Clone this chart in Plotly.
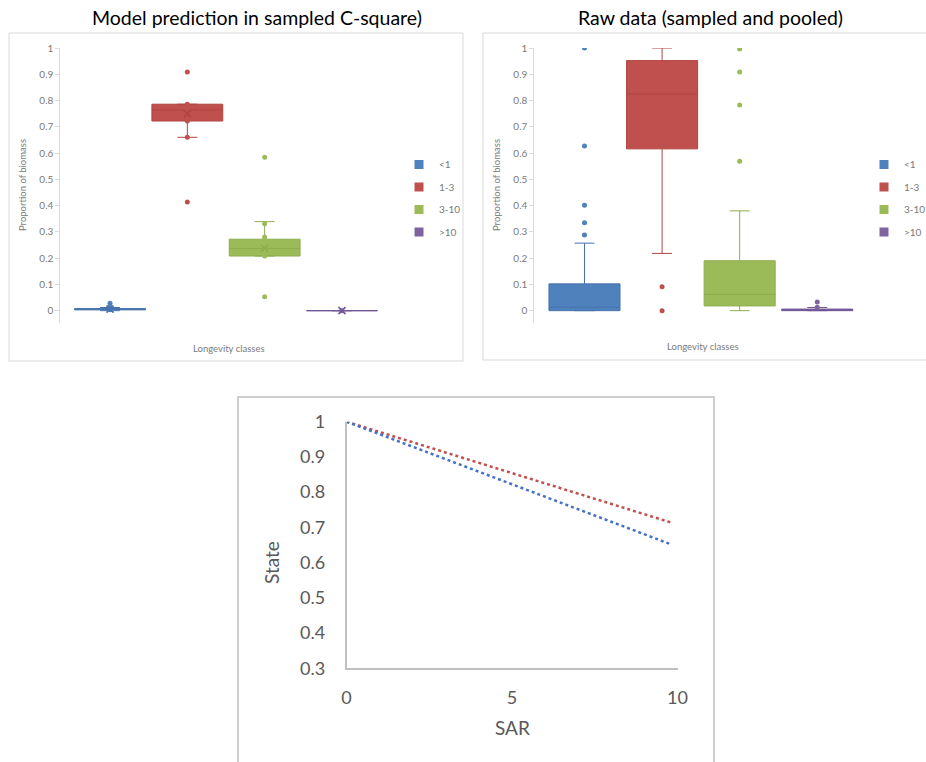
import plotly.graph_objects as go

W, H = 926, 762

# ---------------- data ----------------
categories = ["<1", "1-3", "3-10", ">10"]

# Panel 1: model prediction in sampled C-square
model_q1 = [0.003, 0.722, 0.208, 0.0]
model_median = [0.005, 0.764, 0.237, 0.0]
model_q3 = [0.008, 0.786, 0.272, 0.0]
model_lower = [0.0, 0.660, 0.208, 0.0]
model_upper = [0.012, 0.786, 0.339, 0.0]
model_mean = [0.006, 0.750, 0.237, 0.0]
model_points = [
    [0.028, 0.018, 0.003],
    [0.909, 0.786, 0.776, 0.762, 0.745, 0.730, 0.722, 0.660, 0.414],
    [0.584, 0.331, 0.280, 0.270, 0.250, 0.230, 0.215, 0.208, 0.053],
    [0.0],
]

# Panel 2: raw data (sampled and pooled)
raw_q1 = [0.0, 0.616, 0.018, 0.0]
raw_median = [0.013, 0.825, 0.062, 0.002]
raw_q3 = [0.102, 0.952, 0.190, 0.006]
raw_lower = [0.0, 0.218, 0.0, 0.0]
raw_upper = [0.257, 1.0, 0.380, 0.012]
raw_outliers = [
    [0.288, 0.335, 0.401, 0.627, 1.0],
    [0.091, 0.0],
    [0.569, 0.783, 0.909, 0.996],
    [0.013, 0.033],
]

# Panel 3: State vs SAR
sar = [0, 9.8]
state_red = [1.0, 0.714]
state_blue = [1.0, 0.652]

yticks_top = [0, 0.1, 0.2, 0.3, 0.4, 0.5, 0.6, 0.7, 0.8, 0.9, 1]
yticks_bottom = [0.3, 0.4, 0.5, 0.6, 0.7, 0.8, 0.9, 1]
xticks_bottom = [0, 5, 10]

# ---------------- styles ----------------
FONT = "Lato"
GRAY = "#595959"
LGRAY = "#7a7a7a"
box_colors = ["#4F81BD", "#C0504D", "#9BBB59", "#8064A2"]
box_lines = ["#4573AD", "#B04542", "#8DAD4E", "#715696"]


def px_x(p):
    return p / W


def px_y(p):
    return 1 - p / H


fig = go.Figure()

# ---- panel 1 boxes ----
for i, c in enumerate(categories):
    fig.add_trace(go.Box(
        x=[c], q1=[model_q1[i]], median=[model_median[i]], q3=[model_q3[i]],
        lowerfence=[model_lower[i]], upperfence=[model_upper[i]],
        width=0.916, whiskerwidth=0.28, fillcolor=box_colors[i],
        line=dict(color=box_lines[i], width=1), showlegend=False,
        hoverinfo="skip", xaxis="x", yaxis="y"))
    fig.add_trace(go.Scatter(
        x=[c] * len(model_points[i]), y=model_points[i], mode="markers",
        marker=dict(color=box_colors[i], size=5), showlegend=False,
        xaxis="x", yaxis="y"))
    fig.add_trace(go.Scatter(
        x=[c], y=[model_mean[i]], mode="markers",
        marker=dict(color=box_lines[i], size=7, symbol="x-thin",
                    line=dict(width=1.6, color=box_lines[i])),
        showlegend=False, xaxis="x", yaxis="y"))
    # legend entries
    fig.add_trace(go.Scatter(
        x=[None], y=[None], mode="markers", name=c, legendgroup="a" + c,
        marker=dict(color=box_colors[i], size=9, symbol="square"),
        legend="legend", xaxis="x", yaxis="y"))

# ---- panel 2 boxes ----
for i, c in enumerate(categories):
    fig.add_trace(go.Box(
        x=[c], q1=[raw_q1[i]], median=[raw_median[i]], q3=[raw_q3[i]],
        lowerfence=[raw_lower[i]], upperfence=[raw_upper[i]],
        width=0.916, whiskerwidth=0.28, fillcolor=box_colors[i],
        line=dict(color=box_lines[i], width=1), showlegend=False,
        hoverinfo="skip", xaxis="x2", yaxis="y2"))
    fig.add_trace(go.Scatter(
        x=[c] * len(raw_outliers[i]), y=raw_outliers[i], mode="markers",
        marker=dict(color=box_colors[i], size=5), showlegend=False,
        xaxis="x2", yaxis="y2"))
    fig.add_trace(go.Scatter(
        x=[None], y=[None], mode="markers", name=c, legendgroup="b" + c,
        marker=dict(color=box_colors[i], size=9, symbol="square"),
        legend="legend2", xaxis="x2", yaxis="y2"))

# ---- panel 3 lines ----
fig.add_trace(go.Scatter(x=sar, y=state_red, mode="lines",
                         line=dict(color="#C0504D", width=2.5, dash="dot"),
                         showlegend=False, xaxis="x3", yaxis="y3"))
fig.add_trace(go.Scatter(x=sar, y=state_blue, mode="lines",
                         line=dict(color="#4472C4", width=2.5, dash="dot"),
                         showlegend=False, xaxis="x3", yaxis="y3"))

top_y = dict(range=[-0.047, 1], tickvals=yticks_top,
             ticktext=[f"{v:g}" for v in yticks_top],
             showline=True, linecolor="#d9d9d9", linewidth=1,
             ticks="outside", ticklen=4, tickcolor="#d9d9d9",
             showgrid=False, zeroline=False, automargin=False,
             tickfont=dict(family=FONT, size=10, color=LGRAY))
top_x = dict(type="category", categoryorder="array", categoryarray=categories,
             showticklabels=False, showline=False, showgrid=False,
             zeroline=False, ticks="", automargin=False)

fig.update_layout(
    width=W, height=H,
    margin=dict(l=0, r=0, t=0, b=0, pad=0, autoexpand=False),
    paper_bgcolor="white", plot_bgcolor="rgba(0,0,0,0)",
    font=dict(family=FONT, color=GRAY),
    xaxis=dict(top_x, domain=[px_x(60.3), px_x(393)], range=[-0.643, 3.66],
               anchor="y"),
    yaxis=dict(top_y, domain=[px_y(323), px_y(48)], anchor="x"),
    xaxis2=dict(top_x, domain=[px_x(534.3), px_x(870)], range=[-0.647, 3.68],
                anchor="y2"),
    yaxis2=dict(top_y, domain=[px_y(323), px_y(48)], anchor="x2"),
    xaxis3=dict(domain=[px_x(346.5), px_x(677.5)], range=[0, 10], anchor="y3",
                tickvals=xticks_bottom, showline=True, linecolor="#bfbfbf",
                linewidth=1.5, showgrid=False, zeroline=False, automargin=False,
                ticks="outside", ticklen=12, tickcolor="rgba(0,0,0,0)",
                tickfont=dict(family=FONT, size=18, color=GRAY)),
    yaxis3=dict(domain=[px_y(668.3), px_y(421.7)], range=[0.3, 1], anchor="x3",
                tickvals=yticks_bottom,
                ticktext=[f"{v:g}" for v in yticks_bottom],
                showline=True, linecolor="#bfbfbf", linewidth=1.5,
                showgrid=False, zeroline=False, automargin=False,
                ticks="outside", ticklen=16, tickcolor="rgba(0,0,0,0)",
                tickfont=dict(family=FONT, size=18, color=GRAY)),
    legend=dict(x=px_x(399), y=px_y(150), xanchor="left", yanchor="top",
                font=dict(family=FONT, size=10, color=LGRAY),
                bgcolor="rgba(0,0,0,0)", tracegroupgap=3.5,
                itemclick=False, itemdoubleclick=False),
    legend2=dict(x=px_x(864), y=px_y(150), xanchor="left", yanchor="top",
                 font=dict(family=FONT, size=10, color=LGRAY),
                 bgcolor="rgba(0,0,0,0)", tracegroupgap=3.5,
                 itemclick=False, itemdoubleclick=False),
)

# panel borders
fig.add_shape(type="rect", xref="paper", yref="paper",
              x0=px_x(9), x1=px_x(463), y0=px_y(361), y1=px_y(33),
              line=dict(color="#d9d9d9", width=1), layer="below")
fig.add_shape(type="rect", xref="paper", yref="paper",
              x0=px_x(483), x1=px_x(935), y0=px_y(360), y1=px_y(33),
              line=dict(color="#d9d9d9", width=1), layer="below")
fig.add_shape(type="rect", xref="paper", yref="paper",
              x0=px_x(238), x1=px_x(714), y0=px_y(775), y1=px_y(397),
              line=dict(color="#bfbfbf", width=1.5), layer="below")

def ann(text, x, y, size, color=GRAY, angle=0):
    fig.add_annotation(text=text, x=px_x(x), y=px_y(y), xref="paper",
                       yref="paper", showarrow=False, textangle=angle,
                       font=dict(family=FONT, size=size, color=color),
                       xanchor="center", yanchor="middle")

ann("Model prediction in sampled C-square)", 256.5, 17, 19.5, "#000000")
ann("Raw data (sampled and pooled)", 710, 18, 19.5, "#000000")
ann("Proportion of biomass", 23, 185, 9.5, LGRAY, -90)
ann("Proportion of biomass", 497, 185, 9.5, LGRAY, -90)
ann("Longevity classes", 229, 348, 9.5, LGRAY)
ann("Longevity classes", 703, 347, 9.5, LGRAY)
ann("State", 271, 563, 19, GRAY, -90)
ann("SAR", 512, 727, 19, GRAY)

fig.write_html(
    "out.html",
    config={"displayModeBar": False},
    post_script="document.body.style.margin='0px';"
                "document.body.style.overflow='hidden';",
)
